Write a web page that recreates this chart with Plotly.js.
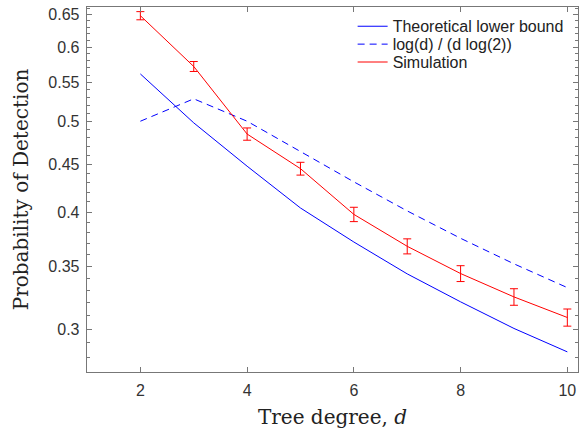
<!DOCTYPE html>
<html>
<head>
<meta charset="utf-8">
<script src="https://cdn.plot.ly/plotly-3.0.1.min.js"></script>
<style>html,body{margin:0;padding:0;background:#fff;}#chart{width:579px;height:431px;}</style>
</head>
<body>
<div id="chart"></div>
<script>
const degrees = [2, 3, 4, 5, 6, 7, 8, 9, 10];
const lowerBound = [0.5616, 0.498, 0.4477, 0.404, 0.3716, 0.3436, 0.3208, 0.3005, 0.2837];
const logBound = [0.5, 0.5283, 0.5, 0.4644, 0.4308, 0.4011, 0.375, 0.3522, 0.3322];
const simulation = [0.648, 0.572, 0.4845, 0.445, 0.3977, 0.3677, 0.3439, 0.3247, 0.3087];
const simError = [0.0065, 0.007, 0.0073, 0.007, 0.007, 0.0068, 0.0067, 0.0066, 0.0065];
const seriesNames = ['Theoretical lower bound', 'log(d) / (d log(2))', 'Simulation'];
const xTicks = [2, 4, 6, 8, 10];
const yTicks = [0.3, 0.35, 0.4, 0.45, 0.5, 0.55, 0.6, 0.65];
const yTickText = ['0.3', '0.35', '0.4', '0.45', '0.5', '0.55', '0.6', '0.65'];
const yMinorTicks = [0.27, 0.28, 0.29, 0.31, 0.32, 0.33, 0.34, 0.36, 0.37, 0.38, 0.39, 0.41, 0.42, 0.43, 0.44, 0.46, 0.47, 0.48, 0.49, 0.51, 0.52, 0.53, 0.54, 0.56, 0.57, 0.58, 0.59, 0.61, 0.62, 0.63, 0.64, 0.66];

const axisGray = '#777777';
const tickFont = {family: 'Liberation Sans, Arial, sans-serif', size: 16, color: '#333333'};
const titleFont = {family: 'DejaVu Serif, serif', size: 20, color: '#222222'};
const legendFont = {family: 'Liberation Sans, Arial, sans-serif', size: 16, color: '#222222'};

const traces = [
  {x: degrees, y: lowerBound, name: seriesNames[0], mode: 'lines', legend: 'legend',
   line: {color: '#0000ff', width: 1}},
  {x: degrees, y: logBound, name: seriesNames[1], mode: 'lines', legend: 'legend2',
   line: {color: '#0000ff', width: 1, dash: '7px,5px'}},
  {x: degrees, y: simulation, name: seriesNames[2], mode: 'lines', legend: 'legend3',
   line: {color: '#ff0000', width: 1},
   error_y: {type: 'data', array: simError, visible: true, color: '#ff0000', thickness: 1, width: 4}}
];

const legendBase = {xref: 'paper', yref: 'paper', x: 0.541, xanchor: 'left', yanchor: 'middle',
  bgcolor: 'rgba(0,0,0,0)', borderwidth: 0, font: legendFont};

const layout = {
  width: 579, height: 431,
  margin: {l: 87, r: 1, t: 7, b: 59},
  paper_bgcolor: '#ffffff', plot_bgcolor: '#ffffff',
  showlegend: true,
  legend: Object.assign({}, legendBase, {y: 0.947}),
  legend2: Object.assign({}, legendBase, {y: 0.898}),
  legend3: Object.assign({}, legendBase, {y: 0.849}),
  xaxis: {
    range: [1, 10.2], tickmode: 'array', tickvals: xTicks,
    ticks: 'inside', ticklen: 5, tickwidth: 1, tickcolor: axisGray,
    showline: true, linecolor: axisGray, linewidth: 1.3, mirror: 'ticks',
    showgrid: false, zeroline: false, tickfont: tickFont, ticklabelstandoff: 3,
    title: {text: 'Tree degree, <i>d</i>', font: titleFont, standoff: 12}
  },
  yaxis: {
    type: 'log', range: [Math.log10(0.27), Math.log10(0.662)],
    tickmode: 'array', tickvals: yTicks, ticktext: yTickText,
    ticks: 'inside', ticklen: 5, tickwidth: 1, tickcolor: axisGray,
    minor: {tickmode: 'array', tickvals: yMinorTicks, ticks: 'inside', ticklen: 3, tickwidth: 1, tickcolor: axisGray, showgrid: false},
    showline: true, linecolor: axisGray, linewidth: 1.3, mirror: 'ticks',
    showgrid: false, zeroline: false, tickfont: tickFont, ticklabelstandoff: 3,
    title: {text: 'Probability of Detection', font: titleFont, standoff: 14}
  }
};

Plotly.newPlot('chart', traces, layout, {staticPlot: true, displayModeBar: false});
</script>
</body>
</html>
